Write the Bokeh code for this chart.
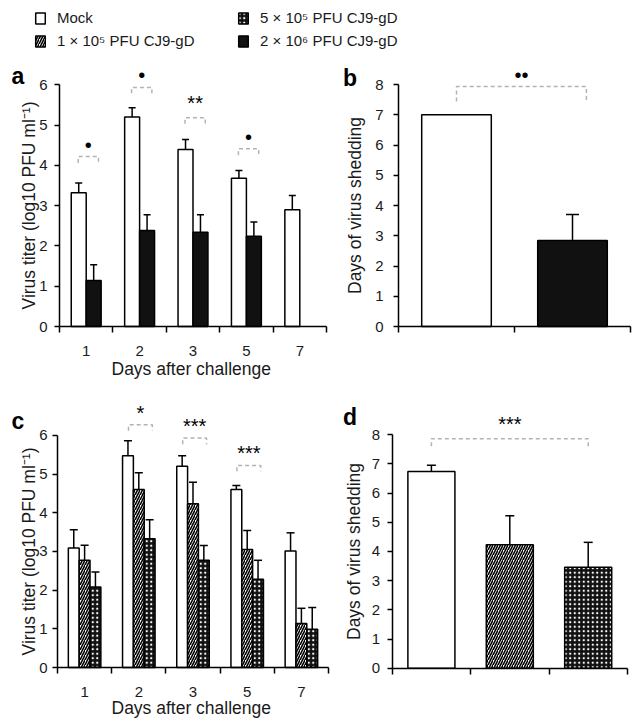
import math
from bokeh.plotting import figure
from bokeh.models import (ColumnDataSource, Range1d, FixedTicker, Whisker, TeeHead,
                          Label, Legend, LegendItem)
from bokeh.layouts import column, row
from bokeh.embed import file_html
from bokeh.resources import INLINE
from bokeh.core.properties import value

FONT = "Liberation Sans"

# ---------------- data ----------------
days = ["1", "2", "3", "5", "7"]
series_names = ["Mock", "1 × 10⁵ PFU CJ9-gD", "5 × 10⁵ PFU CJ9-gD", "2 × 10⁶ PFU CJ9-gD"]

# panel a: virus titer, mock vs 2x10^6
a_mock = [3.32, 5.20, 4.39, 3.68, 2.90]
a_mock_err = [0.24, 0.23, 0.25, 0.19, 0.35]
a_high = [1.14, 2.38, 2.34, 2.24, None]
a_high_err = [0.39, 0.39, 0.43, 0.35, None]
a_sig_day = ["1", "2", "3", "5"]
a_sig_text = ["•", "•", "**", "•"]
a_sig_y = [4.51, 6.23, 5.55, 4.69]
a_br_top = [4.22, 5.93, 5.18, 4.41]
a_br_bottom = [4.06, 5.79, 5.03, 4.25]

# panel b: days of shedding, mock vs 2x10^6
b_groups = ["Mock", "2 × 10⁶ PFU CJ9-gD"]
b_values = [7.0, 2.84]
b_err = [0.0, 0.86]
b_sig_text = ["••"]
b_sig_y = [8.33]
b_br_top = [7.93]
b_br_bottom = [7.44]

# panel c: virus titer, mock vs 1x10^5 vs 5x10^5
c_mock = [3.09, 5.47, 5.20, 4.60, 3.01]
c_mock_err = [0.47, 0.39, 0.27, 0.10, 0.47]
c_low = [2.77, 4.60, 4.23, 3.05, 1.14]
c_low_err = [0.39, 0.43, 0.56, 0.49, 0.39]
c_mid = [2.08, 3.33, 2.77, 2.28, 0.99]
c_mid_err = [0.39, 0.49, 0.38, 0.49, 0.56]
c_sig_day = ["2", "3", "5"]
c_sig_text = ["*", "***", "***"]
c_sig_y = [6.57, 6.23, 5.54]
c_br_top = [6.27, 5.93, 5.22]
c_br_bottom = [6.12, 5.77, 5.07]

# panel d: days of shedding, three groups
d_groups = ["Mock", "1 × 10⁵ PFU CJ9-gD", "5 × 10⁵ PFU CJ9-gD"]
d_values = [6.74, 4.23, 3.46]
d_err = [0.21, 0.99, 0.85]
d_sig_text = ["***"]
d_sig_y = [8.35]
d_br_top = [7.86]
d_br_bottom = [7.60]

# ---------------- styles ----------------
STYLES = {
    "Mock": dict(fill_color="white", line_color="black"),
    "1 × 10⁵ PFU CJ9-gD": dict(fill_color="white", line_color="black",
                               hatch_pattern="right_diagonal_line", hatch_color="black",
                               hatch_scale=5, hatch_weight=1.6),
    "5 × 10⁵ PFU CJ9-gD": dict(fill_color="#111111", line_color="black",
                               hatch_pattern="dot", hatch_color="white",
                               hatch_scale=4.5, hatch_weight=1.2),
    "2 × 10⁶ PFU CJ9-gD": dict(fill_color="#111111", line_color="black"),
}
BAR_LW = 1.5
SIG_COLOR = "#b3b3b3"
TXT = "#1a1a1a"


def make_fig(w, h, axis_px, unit_x, x_last, y0_px, unit_y, yticks, ylabel,
             lab_standoff, title_standoff, xlabels=None, xtitle_pos=None):
    """Whole canvas is the frame; axes are pinned at x=0.5 and y=0."""
    x_start = 0.5 - axis_px / unit_x
    x_end = 0.5 + (w - axis_px) / unit_x
    y_end = y0_px / unit_y
    y_start = -(h - y0_px) / unit_y
    p = figure(width=w, height=h, x_range=Range1d(x_start, x_end),
               y_range=Range1d(y_start, y_end),
               output_backend="svg", toolbar_location=None, min_border=0)
    p.xgrid.visible = False
    p.ygrid.visible = False
    p.outline_line_color = None
    p.background_fill_color = "white"
    p.border_fill_color = "white"
    ya = p.yaxis[0]
    ya.fixed_location = 0.5
    ya.ticker = FixedTicker(ticks=yticks, minor_ticks=[])
    ya.bounds = (yticks[0], yticks[-1])
    ya.axis_line_color = "black"
    ya.axis_line_width = 1.5
    ya.major_tick_line_color = "black"
    ya.major_tick_line_width = 1.5
    ya.major_tick_out = 5
    ya.major_tick_in = 0
    ya.minor_tick_line_color = None
    ya.major_label_text_font = FONT
    ya.major_label_text_font_size = "15px"
    ya.major_label_text_color = TXT
    ya.major_label_standoff = lab_standoff
    ya.axis_label = ylabel
    ya.axis_label_text_font = FONT
    ya.axis_label_text_font_size = "17.5px"
    ya.axis_label_text_font_style = "normal"
    ya.axis_label_text_color = TXT
    ya.axis_label_standoff = title_standoff

    n = int(round(x_last - 0.5))
    centers = [i + 1 for i in range(n)]
    bounds = [i + 0.5 for i in range(n + 1)]
    xa = p.xaxis[0]
    xa.fixed_location = 0
    xa.bounds = (0.5, x_last)
    xa.ticker = FixedTicker(ticks=centers if xlabels else [], minor_ticks=bounds)
    xa.axis_line_color = "black"
    xa.axis_line_width = 1.5
    xa.major_tick_line_color = None
    xa.major_tick_out = 0
    xa.major_tick_in = 0
    xa.minor_tick_line_color = "black"
    xa.minor_tick_line_width = 1.5
    xa.minor_tick_out = 6
    xa.minor_tick_in = 0
    if xlabels:
        xa.major_label_overrides = {c: lab for c, lab in zip(centers, xlabels)}
        xa.major_label_text_font = FONT
        xa.major_label_text_font_size = "15px"
        xa.major_label_text_color = TXT
        xa.major_label_standoff = 13
        p.add_layout(Label(x=xtitle_pos[0], y=xtitle_pos[1], x_units="screen",
                           y_units="screen", text="Days after challenge",
                           text_font=FONT, text_font_size="17.5px",
                           text_color=TXT, text_baseline="alphabetic"))
    else:
        xa.major_label_text_font_size = "0px"
    return p


def add_bars(p, xs, vals, errs, name, width, head):
    keep = [i for i, v in enumerate(vals) if v is not None]
    src = ColumnDataSource(dict(
        x=[xs[i] for i in keep],
        top=[vals[i] for i in keep],
    ))
    p.vbar(x="x", top="top", width=width, source=src, line_width=BAR_LW, **STYLES[name])
    ek = [i for i in keep if errs[i]]
    esrc = ColumnDataSource(dict(
        x=[xs[i] for i in ek],
        top=[vals[i] for i in ek],
        upper=[vals[i] + errs[i] for i in ek],
    ))
    p.add_layout(Whisker(source=esrc, base="x", lower="top", upper="upper",
                         dimension="height", lower_head=None,
                         upper_head=TeeHead(size=head, line_width=1.5, line_color="black"),
                         line_width=1.5, line_color="black", level="glyph"))


def add_sig(p, xc, texts, ys, tops, bottoms, dl, dr):
    xs, ysl = [], []
    for x, t, b in zip(xc, tops, bottoms):
        xs.append([x + dl, x + dl, x + dr, x + dr])
        ysl.append([b, t, t, b])
    p.multi_line(xs=xs, ys=ysl, line_color=SIG_COLOR, line_width=1.5, line_dash="4 3")
    tx = [x + (dl + dr) / 2 for x in xc]
    p.text(x=tx, y=ys, text=texts, text_font=value(FONT), text_font_size="20px",
           text_align="center", text_baseline="middle", text_color="black")


def panel_letter(p, letter, x, y):
    p.add_layout(Label(x=x, y=y, x_units="screen", y_units="screen", text=letter,
                       text_font=FONT, text_font_size="23px", text_font_style="bold",
                       text_color="black", text_baseline="alphabetic"))


day_pos = {d: i + 1 for i, d in enumerate(days)}
xpos = [day_pos[d] for d in days]

# ---------------- legend strip ----------------
pl = figure(width=634, height=58, x_range=Range1d(0, 1), y_range=Range1d(0, 1),
            output_backend="svg", toolbar_location=None, min_border=0,
            x_axis_type=None, y_axis_type=None)
pl.xgrid.visible = False
pl.ygrid.visible = False
pl.outline_line_color = None
pl.background_fill_color = "white"
pl.border_fill_color = "white"
# zero-size stand-in glyphs: they only carry the series styles for the legend
dummies = [pl.vbar(x=[0.5], top=[0], bottom=[0], width=0, line_width=BAR_LW, **STYLES[n])
           for n in series_names]
leg_common = dict(glyph_width=12, glyph_height=14, label_standoff=11,
                  label_text_font=FONT, label_text_font_size="15px",
                  label_text_color=TXT, label_height=14, spacing=6,
                  padding=0, margin=0, border_line_color=None,
                  background_fill_alpha=0)
leg1 = Legend(items=[LegendItem(label=series_names[i], renderers=[dummies[i]]) for i in (0, 1)],
              location=(34, 9), **leg_common)
leg2 = Legend(items=[LegendItem(label=series_names[i], renderers=[dummies[i]]) for i in (2, 3)],
              location=(237, 9), **leg_common)
pl.add_layout(leg1)
pl.add_layout(leg2)

# ---------------- panel a ----------------
pa = make_fig(338, 332, 59, 53.4, 5.5, 268, 40.3, list(range(7)),
              "Virus titer (log10 PFU ml⁻¹)", 7, -3, xlabels=days, xtitle_pos=(111, 22))
add_bars(pa, [x - 0.14 for x in xpos], a_mock, a_mock_err, "Mock", 0.28, 7)
add_bars(pa, [x + 0.14 for x in xpos], a_high, a_high_err, "2 × 10⁶ PFU CJ9-gD", 0.28, 7)
add_sig(pa, [day_pos[d] for d in a_sig_day], a_sig_text, a_sig_y, a_br_top, a_br_bottom, -0.15, 0.23)
panel_letter(pa, "a", 11, 315)

# ---------------- panel b ----------------
pb = make_fig(296, 332, 60, 116, 2.5, 268, 30.25, list(range(9)),
              "Days of virus shedding", 10, 7)
bx = [i + 1 for i in range(len(b_groups))]
for i, g in enumerate(b_groups):
    add_bars(pb, [bx[i]], [b_values[i]], [b_err[i]], g, 0.6, 13)
add_sig(pb, [1.0], b_sig_text, b_sig_y, b_br_top, b_br_bottom, 0.0, 1.12)
panel_letter(pb, "b", 4.5, 313)

# ---------------- panel c ----------------
pc = make_fig(338, 334, 57, 54.2, 5.5, 277, 38.7, list(range(7)),
              "Virus titer (log10 PFU ml⁻¹)", 5, -3, xlabels=days, xtitle_pos=(111, 16.5))
add_bars(pc, [x - 0.2 for x in xpos], c_mock, c_mock_err, "Mock", 0.2, 8)
add_bars(pc, [x for x in xpos], c_low, c_low_err, "1 × 10⁵ PFU CJ9-gD", 0.2, 8)
add_bars(pc, [x + 0.2 for x in xpos], c_mid, c_mid_err, "5 × 10⁵ PFU CJ9-gD", 0.2, 8)
add_sig(pc, [day_pos[d] for d in c_sig_day], c_sig_text, c_sig_y, c_br_top, c_br_bottom, -0.19, 0.25)
panel_letter(pc, "c", 11, 304)

# ---------------- panel d ----------------
pd_ = make_fig(296, 334, 53.7, 78.4, 3.5, 277.7, 29.2, list(range(9)),
               "Days of virus shedding", 7, 5)
dx = [i + 1 for i in range(len(d_groups))]
for i, g in enumerate(d_groups):
    add_bars(pd_, [dx[i]], [d_values[i]], [d_err[i]], g, 0.6, 9)
add_sig(pd_, [1.0], d_sig_text, d_sig_y, d_br_top, d_br_bottom, 0.0, 2.0)
panel_letter(pd_, "d", 4.5, 308)

layout = column(pl, row(pa, pb), row(pc, pd_))
open("out.html", "w").write(file_html(layout, INLINE))
